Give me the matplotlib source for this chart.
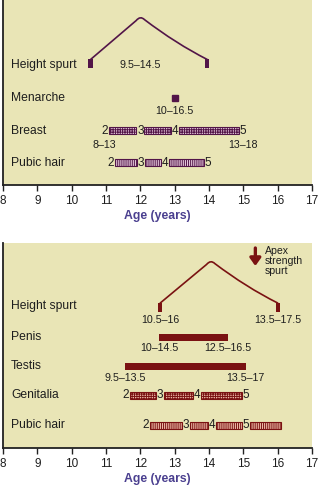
import matplotlib
matplotlib.use("Agg")
import matplotlib.pyplot as plt
from matplotlib.path import Path
from matplotlib.patches import PathPatch
from matplotlib.transforms import blended_transform_factory

plt.rcParams['font.family'] = ['Liberation Sans', 'DejaVu Sans']
plt.rcParams['hatch.linewidth'] = 0.7

# ---------------- data ----------------
age_ticks = [8, 9, 10, 11, 12, 13, 14, 15, 16, 17]
x_label = "Age (years)"

girls_rows = ["Height spurt", "Menarche", "Breast", "Pubic hair"]
girls_height_spurt = [10.55, 12.0, 13.95]          # onset, peak, end
girls_height_range = "9.5–14.5"
menarche_age = 13.0
menarche_range = "10–16.5"
breast_stage_ages = [10.96, 12.0, 13.02, 14.98]
breast_ranges = ["8–13", "13–18"]
girls_pubic_stage_ages = [11.15, 12.02, 12.72, 13.97]

boys_rows = ["Height spurt", "Penis", "Testis", "Genitalia", "Pubic hair"]
boys_height_spurt = [12.58, 14.05, 16.0]            # onset, peak, end
boys_height_ranges = ["10.5–16", "13.5–17.5"]
penis_span = [12.55, 14.55]
penis_ranges = ["10–14.5", "12.5–16.5"]
testis_span = [11.55, 15.07]
testis_ranges = ["9.5–13.5", "13.5–17"]
genitalia_stage_ages = [11.58, 12.57, 13.64, 15.07]
boys_pubic_stage_ages = [12.17, 13.33, 14.08, 15.07]
boys_pubic_end = 16.1
apex_strength_age = 15.35
apex_label = "Apex\nstrength\nspurt"

stage_labels = ["2", "3", "4", "5"]

# ---------------- style ----------------
BG = "#e9e5b6"
PURPLE = "#521548"
PURPLE_FILL = "#e6c8dc"
RED = "#7a1212"
RED_FILL = "#ecb8a6"
TEXT = "#1e1e1e"
AXIS_BLUE = "#4a3f8f"

W, H = 326, 486
fig = plt.figure(figsize=(W / 100, H / 100), dpi=100)


def make_axes(top_px, bottom_px):
    ax = fig.add_axes([3 / W, (H - bottom_px) / H, 309 / W, (bottom_px - top_px) / H])
    ax.set_facecolor(BG)
    ax.set_xlim(8, 17)
    ax.set_ylim(bottom_px - top_px, 0)     # y in pixels from the panel top
    for s in ("top", "right"):
        ax.spines[s].set_visible(False)
    for s in ("left", "bottom"):
        ax.spines[s].set_linewidth(1.3)
        ax.spines[s].set_color("#222222")
    ax.set_yticks([])
    ax.set_xticks(age_ticks)
    ax.set_xticklabels([str(t) for t in age_ticks], fontsize=8.5, color=TEXT)
    ax.tick_params(axis="x", direction="out", length=4.5, width=1.0, pad=2.5, color="#222222")
    ax.set_xlabel(x_label, fontsize=8.8, fontweight="bold", color=AXIS_BLUE, labelpad=2)
    return ax


def row_label(ax, y, text):
    tr = blended_transform_factory(ax.transAxes, ax.transData)
    ax.text(0.026, y, text, transform=tr, ha="left", va="center", fontsize=8.7, color=TEXT)


def spurt_curve(ax, ages, y_end, y_peak, color, sag):
    a0, p, a1 = ages
    r = 0.12
    yl = y_peak + (y_end - y_peak) * r / (p - a0)
    yr = y_peak + (y_end - y_peak) * r / (a1 - p)
    cx = (p + r + a1) / 2
    cy = (yr + y_end) / 2 + sag
    verts = [(a0, y_end), (p - r, yl), (p, y_peak - 1.5), (p + r, yr), (cx, cy), (a1, y_end)]
    codes = [Path.MOVETO, Path.LINETO, Path.CURVE3, Path.CURVE3, Path.CURVE3, Path.CURVE3]
    ax.add_patch(PathPatch(Path(verts, codes), fill=False, edgecolor=color, lw=1.2,
                           capstyle="round", joinstyle="round"))
    for a in (a0, a1):
        ax.bar(a, 8.5, bottom=y_end, width=0.12, color=color, linewidth=0)


def stage_row(ax, y, ages, color, fill, hatch, end=None, gap=0.12):
    edges = list(ages) + ([end] if end is not None else [])
    n_stage = len(ages)
    for i in range(len(edges) - 1):
        left = edges[i] + gap
        right = edges[i + 1] - gap if i + 1 < n_stage else edges[i + 1]
        ax.barh(y, right - left, left=left, height=7, color=fill, edgecolor=color,
                hatch=hatch, linewidth=0.8)
    for a, lab in zip(ages, stage_labels):
        ax.text(a, y, lab, ha="center", va="center", fontsize=8.5, color=TEXT)


def range_text(ax, x, y, text):
    ax.text(x, y, text, ha="center", va="center", fontsize=7.7, color=TEXT)


# ---------------- girls panel ----------------
ax1 = make_axes(0, 185)
g_rows_y = [65, 98, 131, 163]
for y, name in zip(g_rows_y, girls_rows):
    row_label(ax1, y, name)

spurt_curve(ax1, girls_height_spurt, 59.5, 17, PURPLE, sag=4)
range_text(ax1, girls_height_spurt[1], g_rows_y[0], girls_height_range)

ax1.plot([menarche_age], [g_rows_y[1]], marker="s", markersize=4.6, color=PURPLE, linestyle="none")
range_text(ax1, menarche_age, g_rows_y[1] + 12.5, menarche_range)

stage_row(ax1, g_rows_y[2], breast_stage_ages, PURPLE, PURPLE_FILL, "+++++++")
range_text(ax1, breast_stage_ages[0], g_rows_y[2] + 13.5, breast_ranges[0])
range_text(ax1, breast_stage_ages[-1], g_rows_y[2] + 13.5, breast_ranges[1])

stage_row(ax1, g_rows_y[3], girls_pubic_stage_ages, PURPLE, PURPLE_FILL, "||||||||")

# ---------------- boys panel ----------------
ax2 = make_axes(243, 448)
b_rows_y = [63, 94, 123, 152, 182]
for y, name in zip(b_rows_y, boys_rows):
    row_label(ax2, y, name)

spurt_curve(ax2, boys_height_spurt, 60, 18, RED, sag=4)
range_text(ax2, boys_height_spurt[0], b_rows_y[0] + 14, boys_height_ranges[0])
range_text(ax2, boys_height_spurt[2], b_rows_y[0] + 14, boys_height_ranges[1])

ax2.barh(b_rows_y[1], penis_span[1] - penis_span[0], left=penis_span[0], height=7, color=RED)
range_text(ax2, penis_span[0], b_rows_y[1] + 11, penis_ranges[0])
range_text(ax2, penis_span[1], b_rows_y[1] + 11, penis_ranges[1])

ax2.barh(b_rows_y[2], testis_span[1] - testis_span[0], left=testis_span[0], height=7, color=RED)
range_text(ax2, testis_span[0], b_rows_y[2] + 11.5, testis_ranges[0])
range_text(ax2, testis_span[1], b_rows_y[2] + 11.5, testis_ranges[1])

stage_row(ax2, b_rows_y[3], genitalia_stage_ages, RED, RED_FILL, "+++++++")
stage_row(ax2, b_rows_y[4], boys_pubic_stage_ages, RED, RED_FILL, "||||||||", end=boys_pubic_end)

ax2.annotate("", xy=(apex_strength_age, 23), xytext=(apex_strength_age, 5),
             arrowprops=dict(arrowstyle="-|>,head_width=0.32,head_length=0.45",
                             lw=2.4, color=RED, shrinkA=0, shrinkB=0, mutation_scale=10))
ax2.text(apex_strength_age + 0.27, 3, apex_label, ha="left", va="top", fontsize=7.6,
         color=TEXT, linespacing=1.0)

fig.savefig("out.png", dpi=100, facecolor="white")
